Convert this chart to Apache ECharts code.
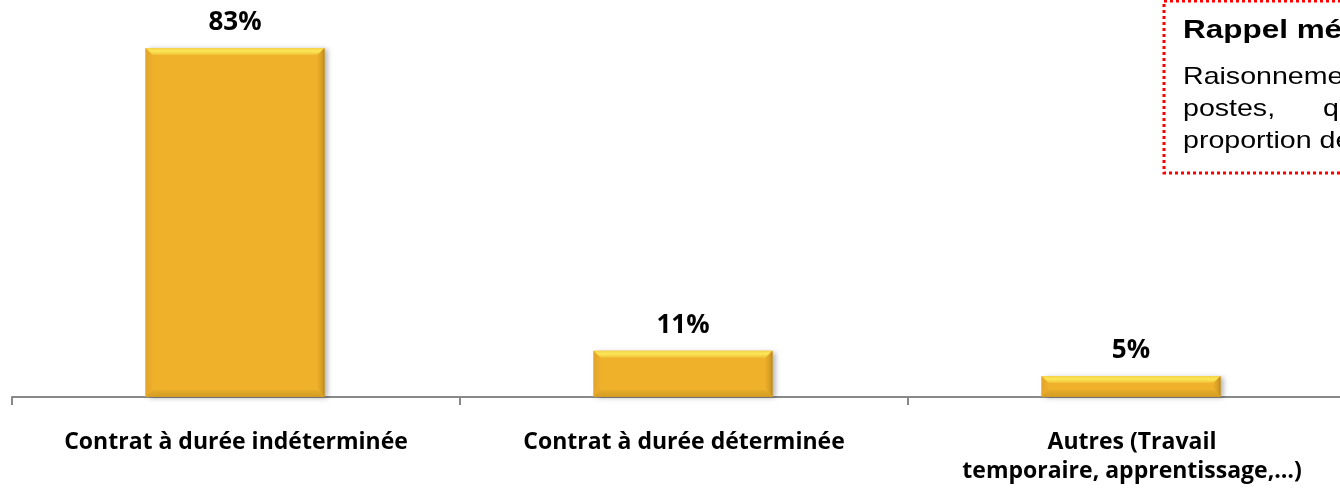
<!DOCTYPE html>
<html>
<head>
<meta charset="utf-8">
<style>
  html, body { margin: 0; padding: 0; background: #ffffff; overflow: hidden; }
  #chart { width: 1360px; height: 491px; }
</style>
<script src="https://cdn.jsdelivr.net/npm/echarts@6/dist/echarts.min.js"></script>
</head>
<body>
<div id="chart"></div>
<script>
// Types de contrat (part des postes, en %)
const categories = [
  'Contrat à durée indéterminée',
  'Contrat à durée déterminée',
  'Autres (Travail\ntemporaire, apprentissage,…)'
];
const shares = [83, 11, 5];

// Encadré "Rappel méthodologique"
const noteTitle = 'Rappel méthodologique';
const noteLines = [
  ['Raisonnement en nombre de'],
  ['postes,', 'qui ne reflètent pas la'],
  ['proportion de salariés']
];

const BAR_W = 179;
const BEVEL = 7;
const labelFont = '"Open Sans", Lato, sans-serif';

function renderBevelBar(params, api) {
  const idx = api.value(0);
  const val = api.value(1);
  const top = api.coord([idx, val]);
  const base = api.coord([idx, 0]);
  const x = top[0] - BAR_W / 2 - 1;
  const y = top[1];
  const w = BAR_W;
  const h = base[1] - top[1];
  const b = Math.min(BEVEL, h / 2);
  return {
    type: 'group',
    children: [
      {
        type: 'rect',
        shape: { x: x, y: y, width: w, height: h },
        style: {
          fill: '#EFB12A',
          shadowBlur: 5,
          shadowOffsetX: 3,
          shadowOffsetY: 1,
          shadowColor: 'rgba(0,0,0,0.3)'
        }
      },
      {
        type: 'polygon',
        shape: { points: [[x, y], [x + w, y], [x + w - b, y + b], [x + b, y + b]] },
        style: {
          fill: new echarts.graphic.LinearGradient(0, 0, 0, 1, [
            { offset: 0, color: '#F4D04A' },
            { offset: 0.45, color: '#FBE856' },
            { offset: 1, color: '#F2BF36' }
          ])
        }
      },
      {
        type: 'polygon',
        shape: { points: [[x, y], [x + b, y + b], [x + b, y + h - b], [x, y + h]] },
        style: {
          fill: new echarts.graphic.LinearGradient(0, 0, 1, 0, [
            { offset: 0, color: '#E3A52A' },
            { offset: 1, color: '#EDAF2A' }
          ])
        }
      },
      {
        type: 'polygon',
        shape: { points: [[x + w, y], [x + w, y + h], [x + w - b, y + h - b], [x + w - b, y + b]] },
        style: {
          fill: new echarts.graphic.LinearGradient(0, 0, 1, 0, [
            { offset: 0, color: '#ECAE2A' },
            { offset: 0.6, color: '#D9A026' },
            { offset: 1, color: '#B5861E' }
          ])
        }
      },
      {
        type: 'polygon',
        shape: { points: [[x, y + h], [x + b, y + h - b], [x + w - b, y + h - b], [x + w, y + h]] },
        style: {
          fill: new echarts.graphic.LinearGradient(0, 0, 0, 1, [
            { offset: 0, color: '#E7AA29' },
            { offset: 1, color: '#D29C25' }
          ])
        }
      },
      {
        type: 'text',
        style: {
          text: val + '%',
          x: top[0] - 1,
          y: y - 25,
          align: 'center',
          verticalAlign: 'middle',
          fill: '#000000',
          font: 'bold 26px ' + labelFont
        }
      }
    ]
  };
}

const chart = echarts.init(document.getElementById('chart'), null, { renderer: 'canvas' });

const noteX = 1183;
const noteFont = '"Liberation Sans", Arial, sans-serif';
const noteGraphics = [
  {
    type: 'rect',
    shape: { x: 1164, y: 1, width: 260, height: 172 },
    style: { fill: '#ffffff', stroke: '#FF0000', lineWidth: 3, lineDash: [3, 3] },
    z: 10
  },
  {
    type: 'text',
    x: noteX, y: 31, scaleX: 1.21,
    style: { text: noteTitle, font: 'bold 26px ' + noteFont, fill: '#000', verticalAlign: 'middle' },
    z: 11
  }
];
const lineY = [77, 109, 141];
const wordX = [[noteX], [noteX, 1323], [noteX]];
noteLines.forEach(function (words, i) {
  words.forEach(function (wd, j) {
    noteGraphics.push({
      type: 'text',
      x: wordX[i][j], y: lineY[i], scaleX: 1.19,
      style: { text: wd, font: '24px ' + noteFont, fill: '#000', verticalAlign: 'middle' },
      z: 11
    });
  });
});

chart.setOption({
  animation: false,
  backgroundColor: '#ffffff',
  grid: { left: 12, top: 18.6, right: 4, bottom: 94, containLabel: false },
  xAxis: {
    type: 'category',
    data: categories,
    boundaryGap: true,
    axisLine: { show: true, lineStyle: { color: '#888888', width: 2 } },
    axisTick: { show: true, length: 8, lineStyle: { color: '#888888', width: 2 } },
    axisLabel: {
      interval: 0,
      margin: 31,
      color: '#000000',
      fontFamily: labelFont,
      fontWeight: 'bold',
      fontSize: 23,
      lineHeight: 29
    }
  },
  yAxis: {
    type: 'value',
    min: 0,
    max: 90,
    show: false,
    splitLine: { show: false }
  },
  series: [{
    type: 'custom',
    renderItem: renderBevelBar,
    data: shares.map(function (v, i) { return [i, v]; }),
    encode: { x: 0, y: 1 },
    clip: false
  }],
  graphic: noteGraphics
});
</script>
</body>
</html>
